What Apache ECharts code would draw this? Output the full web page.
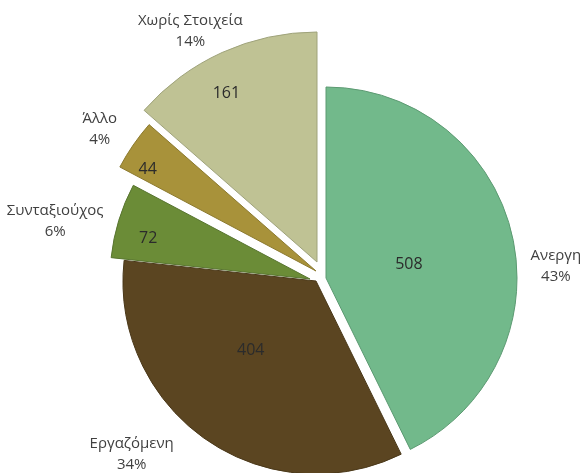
<!DOCTYPE html>
<html><head><meta charset="utf-8">
<script src="https://cdn.jsdelivr.net/npm/echarts@6/dist/echarts.min.js"></script>
<style>html,body{margin:0;padding:0;background:#fff}#c{width:582px;height:473px}</style>
</head><body><div id="c"></div>
<script>
// ---- data ----
const categories = ['Ανεργη', 'Εργαζόμενη', 'Συνταξιούχος', 'Άλλο', 'Χωρίς Στοιχεία'];
const counts = [508, 404, 72, 44, 161];

// ---- styles / layout (kept apart from data) ----
const sliceColors  = ['#72b98b', '#5b4521', '#6b8c37', '#a8923a', '#bfc294'];
const sliceBorders = ['#5c9a72', '#4a3819', '#587530', '#8c7a2f', '#9fa37b'];
// exploded pie: every slice has its own apex and radius; label anchor points
const sliceLayout = [
  { c: [326, 278], r: 191, val: [405, 265], name: [552, 267] },
  { c: [316, 281], r: 193, val: [253, 347], name: [134, 451] },
  { c: [310, 279], r: 200, val: [152, 240], name: [59, 222] },
  { c: [316, 271], r: 222, val: [151, 172], name: [103, 132] },
  { c: [317, 262], r: 230, val: [228, 97],  name: [192, 35] }
];
const FONT = '"Open Sans", "Noto Sans", sans-serif';

const total = counts.reduce((a, b) => a + b, 0);
const pctText = v => Math.round(v / total * 100) + '%';
const hidden = { color: 'rgba(0,0,0,0)', borderWidth: 0 };

const common = {
  type: 'pie', silent: true, startAngle: 90, clockwise: true,
  avoidLabelOverlap: false, animation: false,
  labelLine: { show: false }, emphasis: { disabled: true }
};

const series = [];
categories.forEach((name, i) => {
  const L = sliceLayout[i];
  // the visible slice
  series.push(Object.assign({}, common, {
    center: L.c, radius: [0, L.r],
    label: { show: false },
    data: categories.map((n, j) => ({
      name: n, value: counts[j],
      itemStyle: j === i ? { color: sliceColors[i], borderColor: sliceBorders[i], borderWidth: 1 } : hidden
    }))
  }));
  // value label
  series.push(Object.assign({}, common, {
    center: L.val, radius: [0, 2],
    label: { show: true, position: 'inside', formatter: p => String(p.value),
             color: '#2b2b2b', fontSize: 16, fontFamily: FONT },
    data: categories.map((n, j) => ({
      name: n, value: counts[j], itemStyle: hidden, label: { show: j === i }
    }))
  }));
  // name + percent label
  series.push(Object.assign({}, common, {
    center: L.name, radius: [0, 2],
    label: { show: true, position: 'inside', formatter: p => p.name + '\n' + pctText(p.value),
             color: '#404040', fontSize: 15, lineHeight: 21, fontFamily: FONT, align: 'center' },
    data: categories.map((n, j) => ({
      name: n, value: counts[j], itemStyle: hidden, label: { show: j === i }
    }))
  }));
});

const chart = echarts.init(document.getElementById('c'), null, { renderer: 'canvas' });
chart.setOption({ backgroundColor: '#ffffff', animation: false, series });
</script>
</body></html>
